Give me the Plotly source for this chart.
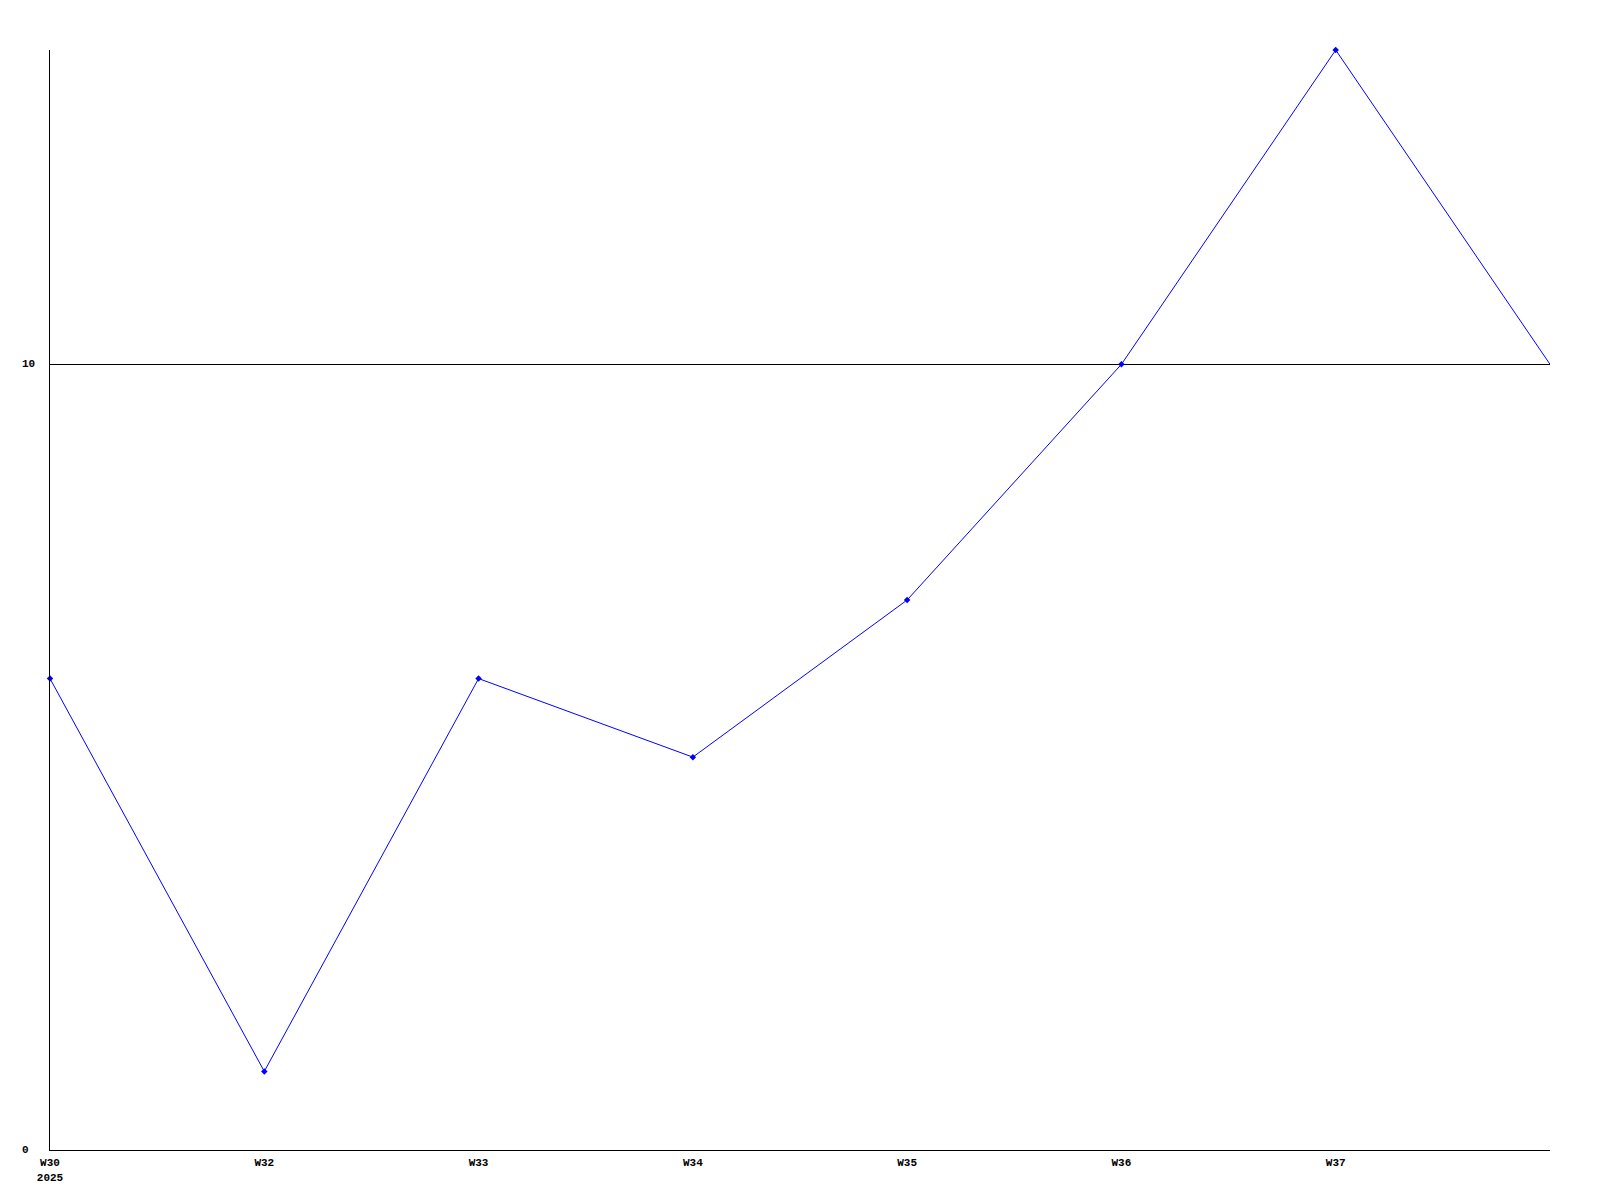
import plotly.graph_objects as go

weeks = ["W30<br>2025", "W32", "W33", "W34", "W35", "W36", "W37", ""]
values = [6, 1, 6, 5, 7, 10, 14, 10]
y_ticks = [0, 10]

positions = list(range(len(weeks)))
font = dict(family="Liberation Mono", size=11, color="black", weight="bold")

fig = go.Figure()

# line through all points, markers on all but the last one
fig.add_trace(go.Scatter(
    x=positions, y=values, mode="lines",
    line=dict(color="#0000ff", width=1),
    hoverinfo="skip",
))
fig.add_trace(go.Scatter(
    x=positions[:-1], y=values[:-1], mode="markers",
    marker=dict(color="#0000ff", size=5, symbol="diamond"),
    cliponaxis=False,
))

# y tick labels, left aligned like the original
for v in y_ticks:
    fig.add_annotation(x=0, xref="paper", xshift=-30, y=v, yref="y",
                       text=str(v), showarrow=False, xanchor="left",
                       font=font)

# page body adds 8px, so margins are shifted to compensate
fig.update_layout(
    width=1600, height=1200,
    margin=dict(l=42, r=58, t=42, b=58),
    paper_bgcolor="white", plot_bgcolor="white",
    showlegend=False,
    font=font,
)
fig.update_xaxes(
    range=[0, len(weeks) - 1],
    tickvals=positions, ticktext=weeks,
    showgrid=False, zeroline=False,
    showline=True, linecolor="black", linewidth=1,
    ticks="", ticklabelstandoff=2,
)
fig.update_yaxes(
    range=[0, 14],
    tickvals=[10], showticklabels=False,
    showgrid=True, gridcolor="black", gridwidth=1,
    zeroline=False,
    showline=True, linecolor="black", linewidth=1,
)

fig.write_html("out.html")
